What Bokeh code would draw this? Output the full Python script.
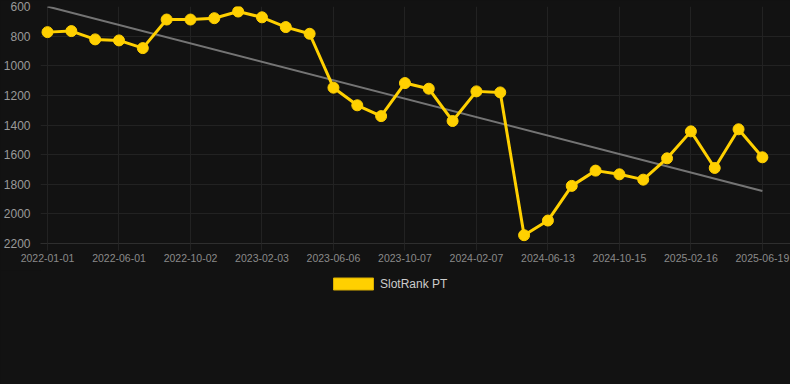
from bokeh.plotting import figure
from bokeh.layouts import column
from bokeh.models import Range1d, FixedTicker, SingleIntervalTicker, Legend, LegendItem
from bokeh.embed import file_html
from bokeh.resources import INLINE

# ---- data ----
ranks = [773, 766, 822, 829, 881, 688, 688, 679, 634, 673,
         739, 784, 1148, 1267, 1340, 1117, 1155, 1373, 1173, 1180,
         2144, 2045, 1811, 1708, 1733, 1769, 1625, 1443, 1690, 1429, 1618]
tick_positions = [0, 3, 6, 9, 12, 15, 18, 21, 24, 27, 30]
tick_labels = ["2022-01-01", "2022-06-01", "2022-10-02", "2023-02-03", "2023-06-06",
               "2023-10-07", "2024-02-07", "2024-06-13", "2024-10-15", "2025-02-16",
               "2025-06-19"]
trend_x = [0, 30]
trend_y = [600, 1845]
series_name = "SlotRank PT"

BG = "#121212"
GOLD = "#FFD000"
FONT = "Liberation Sans"

x = list(range(len(ranks)))

TOP_H = 270
p = figure(width=790, height=TOP_H, output_backend="svg", toolbar_location=None,
           title=None,
           x_range=Range1d(-0.294, 31.18), y_range=Range1d(2200, 600),
           background_fill_color=BG, border_fill_color=BG,
           min_border_left=40, min_border_right=0, min_border_top=6,
           min_border_bottom=TOP_H - 243, outline_line_color=None)

# grid
p.xgrid.ticker = FixedTicker(ticks=tick_positions)
p.xgrid.grid_line_color = "#222222"
p.ygrid.grid_line_color = "#222222"

# axes
xa = p.xaxis[0]
xa.ticker = FixedTicker(ticks=tick_positions)
xa.major_label_overrides = {t: l for t, l in zip(tick_positions, tick_labels)}
xa.axis_line_color = "#2e2e2e"
xa.major_tick_line_color = "#222222"
xa.major_tick_out = 7
xa.major_tick_in = 0
xa.minor_tick_line_color = None
xa.major_label_text_color = "#8a8a8a"
xa.major_label_text_font = FONT
xa.major_label_text_font_size = "10.5px"
xa.major_label_standoff = 3

ya = p.yaxis[0]
ya.ticker = SingleIntervalTicker(interval=200)
ya.axis_line_color = None
ya.major_tick_line_color = None
ya.minor_tick_line_color = None
ya.major_label_text_color = "#9a9a9a"
ya.major_label_text_font = FONT
ya.major_label_text_font_size = "12px"
ya.major_label_standoff = 4

# trend line
p.line(trend_x, trend_y, line_color="#808080", line_width=2, line_alpha=0.9)

# series
p.line(x, ranks, line_color=GOLD, line_width=3)
p.scatter(x, ranks, size=11, fill_color=GOLD, line_color=GOLD)

# ---- legend strip ----
LEG_H = 384 - TOP_H
q = figure(width=790, height=LEG_H, output_backend="svg", toolbar_location=None,
           title=None, x_range=Range1d(0, 1), y_range=Range1d(0, 1),
           x_axis_location=None, y_axis_location=None,
           background_fill_color=BG, border_fill_color=BG,
           min_border=0, outline_line_color=None)
q.xgrid.visible = False
q.ygrid.visible = False
# swatch renderer kept outside the visible range; only its legend glyph shows
dummy = q.quad(left=[5], right=[6], top=[5], bottom=[6], fill_color=GOLD,
               line_color="#d9ae00")
legend = Legend(items=[LegendItem(label=series_name, renderers=[dummy])],
                location=(288, LEG_H - 21), orientation="horizontal",
                background_fill_alpha=0, border_line_color=None,
                glyph_width=50, glyph_height=15, padding=0, margin=0,
                label_standoff=2, label_text_color="#cccccc",
                label_text_font=FONT, label_text_font_size="12px")
q.add_layout(legend)

layout = column(p, q, spacing=0)
html = file_html(layout, INLINE)
html = html.replace("<head>", "<head><style>html,body{margin:0;padding:0;background:#121212;}</style>", 1)
open("out.html", "w").write(html)
